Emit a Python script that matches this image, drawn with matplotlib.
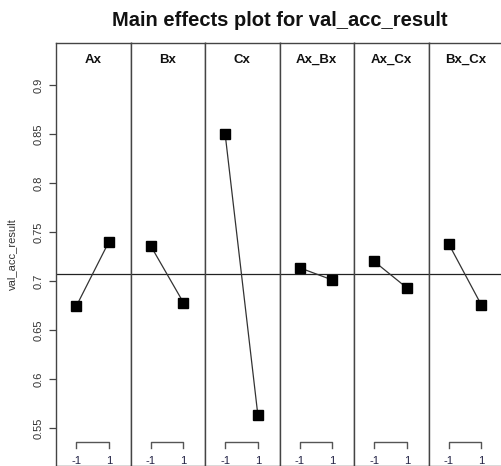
import matplotlib
matplotlib.use("Agg")
import matplotlib.pyplot as plt
import matplotlib.transforms as mtransforms
import numpy as np

plt.rcParams['font.family'] = ['Liberation Sans', 'DejaVu Sans']

factors = ["Ax", "Bx", "Cx", "Ax_Bx", "Ax_Cx", "Bx_Cx"]
levels = [-1, 1]
low_means = [0.674, 0.736, 0.850, 0.7135, 0.720, 0.738]
high_means = [0.740, 0.678, 0.563, 0.701, 0.693, 0.6755]
yticks = [0.55, 0.6, 0.65, 0.7, 0.75, 0.8, 0.85, 0.9]
title = "Main effects plot for val_acc_result"
ylabel = "val_acc_result"

W, H = 501, 466
fig = plt.figure(figsize=(W / 100, H / 100), dpi=100)

left_px, top_px, bottom_px = 56, 43, 466
panel_w = 74.5
ylim = (0.7 - (bottom_px - 281) / 980, 0.7 + (281 - top_px) / 980)
grand_mean = np.mean(low_means + high_means)

edge = '#444444'
for i, f in enumerate(factors):
    x0 = (left_px + i * panel_w) / W
    ax = fig.add_axes([x0, 1 - bottom_px / H, panel_w / W, (bottom_px - top_px) / H])
    ax.set_xlim(-2.23, 2.32)
    ax.set_ylim(*ylim)
    for s in ax.spines.values():
        s.set_color(edge)
        s.set_linewidth(1.0)
    ax.axhline(grand_mean, color='#222222', lw=0.9, zorder=1)
    ax.plot(levels, [low_means[i], high_means[i]], color='#333333', lw=0.9, zorder=2)
    ax.plot(levels, [low_means[i], high_means[i]], 's', color='black', ms=7.2, zorder=3)
    ax.set_xticks([])
    tr = mtransforms.blended_transform_factory(ax.transData, ax.transAxes)
    ax.plot([-1, -1, 1, 1], [0.042, 0.0575, 0.0575, 0.042], color='#555555', lw=1.0,
            transform=tr, clip_on=False)
    for lv in levels:
        ax.text(lv, 0.012, str(lv), transform=tr, ha='center', va='center', fontsize=8,
                color='#222244')
    ax.text(0.5, 0.96, f, transform=ax.transAxes, ha='center', va='center',
            fontsize=9.5, fontweight='bold', color='#111111')
    if i == 0:
        ax.set_yticks(yticks)
        ax.set_yticklabels([f"{t:g}" for t in yticks])
        ax.tick_params(axis='y', length=5, width=0.9, color=edge, labelsize=8,
                       labelrotation=90, pad=4, labelcolor='#333333')
        for lab in ax.get_yticklabels():
            lab.set_va('center')
    else:
        ax.set_yticks([])

fig.text(279.5 / W, 1 - 21 / H, title, ha='center', va='center', fontsize=14.5,
         fontweight='bold', color='#111111')
fig.text(12 / W, 1 - 254 / H, ylabel, ha='center', va='center', rotation=90,
         fontsize=8, color='#333333')

fig.savefig("out.png", dpi=100)
